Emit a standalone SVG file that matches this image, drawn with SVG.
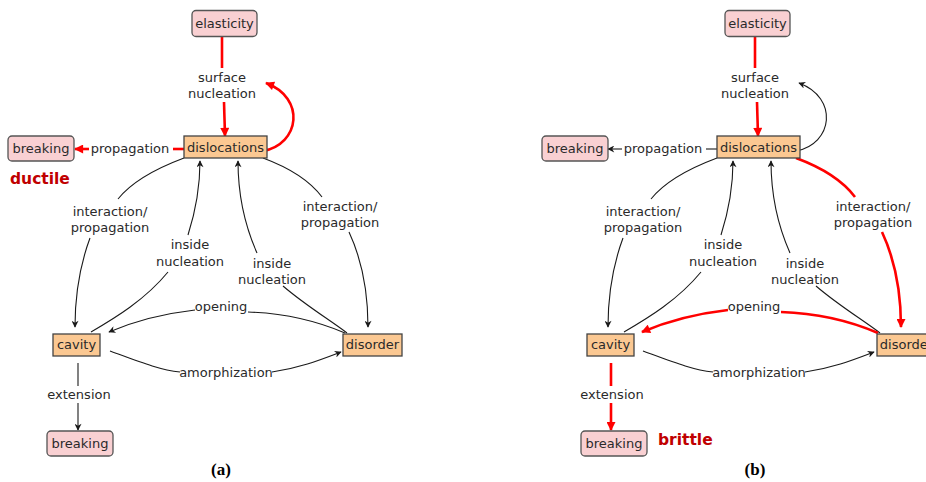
<svg xmlns="http://www.w3.org/2000/svg" width="926" height="482" viewBox="0 0 926 482">
<defs>
<style>
.t{font-family:"DejaVu Sans","Liberation Sans",sans-serif;font-size:13px;fill:#2a2a2a;text-anchor:middle}
.pink{fill:#f9d0d2;stroke:#555;stroke-width:1.3}
.or{fill:#fbc892;stroke:#444;stroke-width:1.3}
.k{fill:none;stroke:#1a1a1a;stroke-width:1.1}
.r{fill:none;stroke:#ff0000;stroke-width:2.6}
.ka{marker-end:url(#ak)}
.ra{marker-end:url(#ar)}
.big{font-family:"DejaVu Sans","Liberation Sans",sans-serif;font-size:15.5px;font-weight:bold;fill:#c00000}
.cap{font-family:"Liberation Serif","Times New Roman",serif;font-size:17px;font-weight:bold;fill:#000;text-anchor:middle}
</style>
<marker id="ak" viewBox="0 0 10 10" refX="9" refY="5" markerUnits="userSpaceOnUse" markerWidth="8" markerHeight="7" orient="auto">
<path d="M0,0 L10,5 L0,10 L3,5 Z" fill="#1a1a1a"/>
</marker>
<marker id="ar" viewBox="0 0 10 10" refX="9" refY="5" markerUnits="userSpaceOnUse" markerWidth="10" markerHeight="9" orient="auto">
<path d="M0,0 L10,5 L0,10 Z" fill="#ff0000"/>
</marker>
</defs>
<rect width="926" height="482" fill="#fff"/>

<!-- Panel (a) -->
<g id="panel-a">
<g id="a-connectors">
<path class="r" d="M222,37 L222,68"/>
<path class="r ra" d="M224,102 L225,136"/>
<path class="r" d="M184,149 L173,149"/>
<path class="r ra" d="M89,149 L75,149"/>
<path class="r ra" d="M263,151 C300,144 306,98 266,83"/>
<path class="k" d="M184,158 C152,170 130,184 118,199"/>
<path class="k ka" d="M90,238 C80,265 75,295 75,327"/>
<path class="k ka" d="M188,235 C196,210 200,186 200,161"/>
<path class="k" d="M168,272 C145,300 115,318 91,332"/>
<path class="k ka" d="M257,253 C245,226 238,196 238,161"/>
<path class="k" d="M283,286 C305,305 330,320 347,333"/>
<path class="k" d="M263,158 C290,168 310,181 322,197"/>
<path class="k ka" d="M349,232 C362,260 368,295 368,327"/>
<path class="k" d="M345,333 C310,318 280,313 248,312"/>
<path class="k ka" d="M195,310 C160,314 130,323 109,332"/>
<path class="k" d="M110,351 C140,362 160,370 180,372"/>
<path class="k ka" d="M272,372 C300,368 320,360 341,352"/>
<path class="k" d="M78,363 L78,386"/>
<path class="k ka" d="M78,403 L78,430"/>
</g>
<text class="t" x="222" y="82">surface</text>
<text class="t" x="222" y="98">nucleation</text>
<text class="t" x="130" y="153">propagation</text>
<text class="t" x="110" y="216">interaction/</text>
<text class="t" x="110" y="232">propagation</text>
<text class="t" x="190" y="249">inside</text>
<text class="t" x="190" y="266">nucleation</text>
<text class="t" x="272" y="268">inside</text>
<text class="t" x="272" y="284">nucleation</text>
<text class="t" x="340" y="211">interaction/</text>
<text class="t" x="340" y="227">propagation</text>
<text class="t" x="221" y="311">opening</text>
<text class="t" x="226" y="377">amorphization</text>
<text class="t" x="79" y="399">extension</text>
<g id="a-elasticity"><rect class="pink" x="192" y="10.5" width="65" height="26" rx="4"/><text class="t" x="224.5" y="28">elasticity</text></g>
<g id="a-dislocations"><rect class="or" x="184" y="136" width="83" height="22"/><text class="t" x="225.5" y="152">dislocations</text></g>
<g id="a-breaking-top"><rect class="pink" x="8" y="136" width="66" height="25" rx="4"/><text class="t" x="41" y="153">breaking</text></g>
<g id="a-cavity"><rect class="or" x="53" y="334" width="47" height="22"/><text class="t" x="76.5" y="349">cavity</text></g>
<g id="a-disorder"><rect class="or" x="343" y="334" width="59" height="22"/><text class="t" x="372.5" y="349">disorder</text></g>
<g id="a-breaking-bottom"><rect class="pink" x="47" y="431" width="66" height="25" rx="4"/><text class="t" x="80" y="448">breaking</text></g>
<text class="big" x="10" y="184">ductile</text>
<text class="cap" x="221" y="475">(a)</text>
</g>

<!-- Panel (b) -->
<g id="panel-b">
<g id="b-connectors">
<path class="r" d="M755,37 L755,68"/>
<path class="r ra" d="M757,102 L758,136"/>
<path class="k" d="M717,149 L706,149"/>
<path class="k ka" d="M622,149 L608,149"/>
<path class="k ka" d="M796,151 C833,144 839,98 799,83"/>
<path class="k" d="M717,158 C685,170 663,184 651,199"/>
<path class="k ka" d="M623,238 C613,265 608,295 608,327"/>
<path class="k ka" d="M721,235 C729,210 733,186 733,161"/>
<path class="k" d="M701,272 C678,300 648,318 624,332"/>
<path class="k ka" d="M790,253 C778,226 771,196 771,161"/>
<path class="k" d="M816,286 C838,305 863,320 880,333"/>
<path class="r" d="M796,158 C823,168 843,181 855,197"/>
<path class="r ra" d="M882,232 C895,260 901,295 901,327"/>
<path class="r" d="M878,333 C843,318 813,313 781,312"/>
<path class="r ra" d="M728,310 C693,314 663,323 642,332"/>
<path class="k" d="M643,351 C673,362 693,370 713,372"/>
<path class="k ka" d="M805,372 C833,368 853,360 874,352"/>
<path class="r" d="M611,363 L611,386"/>
<path class="r ra" d="M611,403 L611,430"/>
</g>
<text class="t" x="755" y="82">surface</text>
<text class="t" x="755" y="98">nucleation</text>
<text class="t" x="663" y="153">propagation</text>
<text class="t" x="643" y="216">interaction/</text>
<text class="t" x="643" y="232">propagation</text>
<text class="t" x="723" y="249">inside</text>
<text class="t" x="723" y="266">nucleation</text>
<text class="t" x="805" y="268">inside</text>
<text class="t" x="805" y="284">nucleation</text>
<text class="t" x="873" y="211">interaction/</text>
<text class="t" x="873" y="227">propagation</text>
<text class="t" x="754" y="311">opening</text>
<text class="t" x="759" y="377">amorphization</text>
<text class="t" x="612" y="399">extension</text>
<g id="b-elasticity"><rect class="pink" x="725" y="10.5" width="65" height="26" rx="4"/><text class="t" x="757.5" y="28">elasticity</text></g>
<g id="b-dislocations"><rect class="or" x="717" y="136" width="83" height="22"/><text class="t" x="758.5" y="152">dislocations</text></g>
<g id="b-breaking-top"><rect class="pink" x="542" y="136" width="66" height="25" rx="4"/><text class="t" x="575" y="153">breaking</text></g>
<g id="b-cavity"><rect class="or" x="587" y="334" width="47" height="22"/><text class="t" x="610.5" y="349">cavity</text></g>
<g id="b-disorder"><rect class="or" x="877" y="334" width="59" height="22"/><text class="t" x="906.5" y="349">disorder</text></g>
<g id="b-breaking-bottom"><rect class="pink" x="581" y="431" width="66" height="25" rx="4"/><text class="t" x="614" y="448">breaking</text></g>
<text class="big" x="658" y="445">brittle</text>
<text class="cap" x="755" y="475">(b)</text>
</g>
</svg>
